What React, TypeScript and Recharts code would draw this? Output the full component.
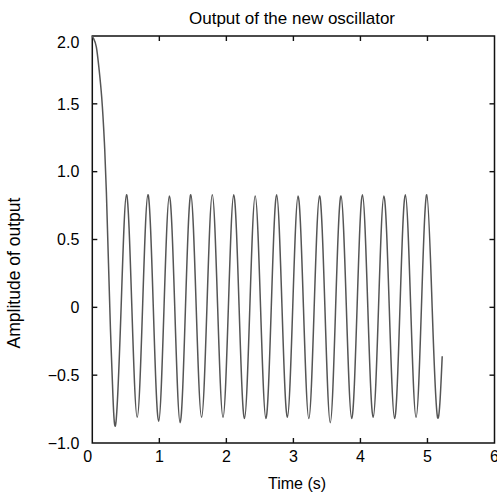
import { LineChart, Line, XAxis, YAxis, ReferenceArea } from "recharts"

const FONT = "'Liberation Sans', Arial, sans-serif"

const xTicks = [0, 1, 2, 3, 4, 5, 6]
const yTicks = [-1, -0.5, 0, 0.5, 1, 1.5, 2]
const yTickLabels = ["\u22121.0", "\u22120.5", "0", "0.5", "1.0", "1.5", "2.0"]

// time (s) and output amplitude
const timeS = [
  0, 0.02, 0.06, 0.1, 0.14, 0.18, 0.21, 0.24, 0.27, 0.3, 0.35,
  0.43, 0.51, 0.59, 0.67, 0.75, 0.83, 0.91, 0.99, 1.07, 1.15, 1.23, 1.31,
  1.39, 1.47, 1.55, 1.63, 1.71, 1.79, 1.87, 1.95, 2.03, 2.11, 2.19, 2.27,
  2.35, 2.43, 2.51, 2.59, 2.67, 2.75, 2.83, 2.91, 2.99, 3.07, 3.15, 3.23,
  3.31, 3.39, 3.47, 3.55, 3.63, 3.71, 3.79, 3.87, 3.95, 4.03, 4.11, 4.19,
  4.27, 4.35, 4.43, 4.51, 4.59, 4.67, 4.75, 4.83, 4.91, 4.99, 5.07, 5.15,
  5.22,
]
const amplitude = [
  2.0, 1.98, 1.92, 1.76, 1.55, 1.22, 0.85, 0.35, -0.15, -0.55, -0.86,
  0, 0.83, 0, -0.81, 0, 0.83, 0, -0.84, 0, 0.82, 0, -0.85,
  0, 0.83, 0, -0.81, 0, 0.83, 0, -0.81, 0, 0.83, 0, -0.82,
  0, 0.82, 0, -0.82, 0, 0.83, 0, -0.81, 0, 0.82, 0, -0.82,
  0, 0.82, 0, -0.85, 0, 0.82, 0, -0.82, 0, 0.83, 0, -0.81,
  0, 0.82, 0, -0.82, 0, 0.83, 0, -0.81, 0, 0.83, 0, -0.81,
  -0.36,
]

const data = timeS.map((t, i) => ({ t, a: amplitude[i] }))

const AXIS = "#111"
const X_MIN = 0, X_MAX = 6, Y_MIN = -1, Y_MAX = 2
// inward tick marks: ~5px long, ~1.4px thick, in axis units (67px per s, 135.7px per unit)
const XT_LEN = 5 / 135.7, XT_HALF = 0.7 / 67
const YT_LEN = 5 / 67, YT_HALF = 0.7 / 135.7

const innerX = xTicks.filter((v) => v > X_MIN && v < X_MAX)
const innerY = yTicks.filter((v) => v > Y_MIN && v < Y_MAX)

function BottomTick({ x, y, payload }: any) {
  const v = payload.value
  return (
    <text x={v === 0 ? x - 4.5 : x} y={y + 19} textAnchor="middle" fontSize={16} fontFamily={FONT} fill="#000">
      {v}
    </text>
  )
}

function LeftTick({ x, y, payload }: any) {
  const v = payload.value
  const i = yTicks.indexOf(v)
  return (
    <text x={x - 13} y={v === 2 ? y + 11.5 : y + 5.7} textAnchor="end" fontSize={16} fontFamily={FONT} fill="#000">
      {yTickLabels[i]}
    </text>
  )
}

export default function App() {
  return (
    <div style={{ position: "absolute", left: 0, top: 0, width: 497, height: 495, background: "#fff", fontFamily: FONT, color: "#000" }}>
      <LineChart width={497} height={495} data={data} margin={{ top: 36, right: 2.5, bottom: 22, left: 32.3 }}>
        <XAxis
          dataKey="t"
          type="number"
          domain={[X_MIN, X_MAX]}
          ticks={xTicks}
          interval={0}
          tickSize={0}
          tickMargin={0}
          height={30}
          axisLine={false}
          tickLine={false}
          tick={<BottomTick />}
        />
        <YAxis
          type="number"
          domain={[Y_MIN, Y_MAX]}
          ticks={yTicks}
          interval={0}
          tickSize={0}
          tickMargin={0}
          width={60}
          axisLine={false}
          tickLine={false}
          tick={<LeftTick />}
        />
        {innerX.map((v) => (
          <ReferenceArea key={`xb${v}`} x1={v - XT_HALF} x2={v + XT_HALF} y1={Y_MIN} y2={Y_MIN + XT_LEN} fill={AXIS} fillOpacity={1} ifOverflow="visible" />
        ))}
        {innerX.map((v) => (
          <ReferenceArea key={`xt${v}`} x1={v - XT_HALF} x2={v + XT_HALF} y1={Y_MAX - XT_LEN} y2={Y_MAX} fill={AXIS} fillOpacity={1} ifOverflow="visible" />
        ))}
        {innerY.map((v) => (
          <ReferenceArea key={`yl${v}`} x1={X_MIN} x2={X_MIN + YT_LEN} y1={v - YT_HALF} y2={v + YT_HALF} fill={AXIS} fillOpacity={1} ifOverflow="visible" />
        ))}
        {innerY.map((v) => (
          <ReferenceArea key={`yr${v}`} x1={X_MAX - YT_LEN} x2={X_MAX} y1={v - YT_HALF} y2={v + YT_HALF} fill={AXIS} fillOpacity={1} ifOverflow="visible" />
        ))}
        <ReferenceArea x1={X_MIN} x2={X_MAX} y1={Y_MIN} y2={Y_MAX} fill="none" fillOpacity={0} stroke={AXIS} strokeWidth={1.5} ifOverflow="visible" />
        <Line
          type="natural"
          dataKey="a"
          stroke="#555"
          strokeWidth={1.5}
          dot={false}
          isAnimationActive={false}
        />
      </LineChart>
      <div style={{ position: "absolute", left: 292, top: 9.5, transform: "translateX(-50%)", fontSize: 17, lineHeight: 1, whiteSpace: "nowrap" }}>
        Output of the new oscillator
      </div>
      <div style={{ position: "absolute", left: 297, top: 476, transform: "translateX(-50%)", fontSize: 16, lineHeight: 1, whiteSpace: "nowrap" }}>
        Time (s)
      </div>
      <div style={{ position: "absolute", left: 15, top: 273, transform: "translate(-50%, -50%) rotate(-90deg)", fontSize: 17.5, lineHeight: 1, whiteSpace: "nowrap" }}>
        Amplitude of output
      </div>
    </div>
  )
}
